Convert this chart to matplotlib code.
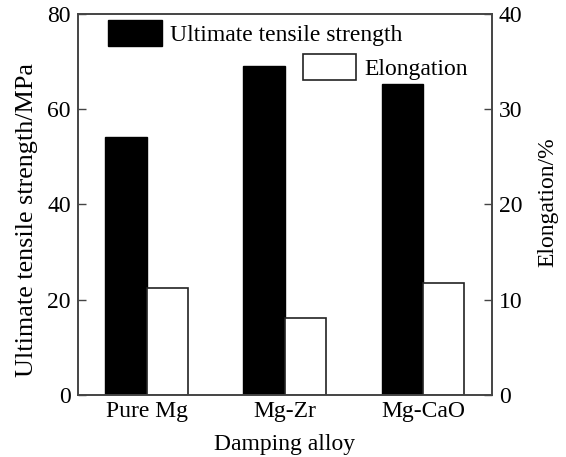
import matplotlib
matplotlib.use("Agg")
import matplotlib.pyplot as plt
import numpy as np

alloys = ["Pure Mg", "Mg-Zr", "Mg-CaO"]
uts = [54.2, 69.1, 65.3]
elongation = [11.2, 8.1, 11.8]

plt.rcParams["font.family"] = ["Liberation Serif", "DejaVu Serif"]
plt.rcParams["font.size"] = 17

fig = plt.figure(figsize=(5.66, 4.57), dpi=100)
ax = fig.add_axes([0.1373, 0.1357, 0.7320, 0.8337])
ax2 = ax.twinx()

x = np.arange(len(alloys))
w = 0.30
b1 = ax.bar(x - w / 2, uts, width=w, color="black", edgecolor="black", linewidth=1)
b2 = ax2.bar(x + w / 2, elongation, width=w, color="white", edgecolor="#222222", linewidth=1.2)

ax.set_xlim(-0.5, 2.5)
ax.set_ylim(0, 80)
ax2.set_ylim(0, 40)
ax.set_yticks([0, 20, 40, 60, 80])
ax2.set_yticks([0, 10, 20, 30, 40])
ax.set_xticks(x)
ax.set_xticklabels(alloys)
ax.tick_params(axis="x", length=0, pad=4)
ax.tick_params(axis="y", direction="in", length=6, width=1, pad=5, color="#444444")
ax2.tick_params(axis="y", direction="in", length=6, width=1, pad=5, color="#444444")

for a in (ax, ax2):
    for s in a.spines.values():
        s.set_color("#444444")
        s.set_linewidth(1.2)

ax.set_xlabel("Damping alloy", labelpad=9)
ax.set_ylabel("Ultimate tensile strength/MPa", fontsize=18.8)
ax2.set_ylabel("Elongation/%", rotation=90)
ax.yaxis.set_label_coords(-0.097, 0.46)
ax2.yaxis.set_label_coords(1.109, 0.505)

leg1 = ax.legend([b1], ["Ultimate tensile strength"], loc="upper left",
                 bbox_to_anchor=(0.062, 0.997), frameon=False, handlelength=2.27,
                 handleheight=1.35, handletextpad=0.34, borderpad=0.2, borderaxespad=0)
leg2 = ax2.legend([b2], ["Elongation"], loc="upper left",
                  bbox_to_anchor=(0.532, 0.908), frameon=False, handlelength=2.27,
                  handleheight=1.35, handletextpad=0.34, borderpad=0.2, borderaxespad=0)

fig.savefig("out.png", dpi=100)
